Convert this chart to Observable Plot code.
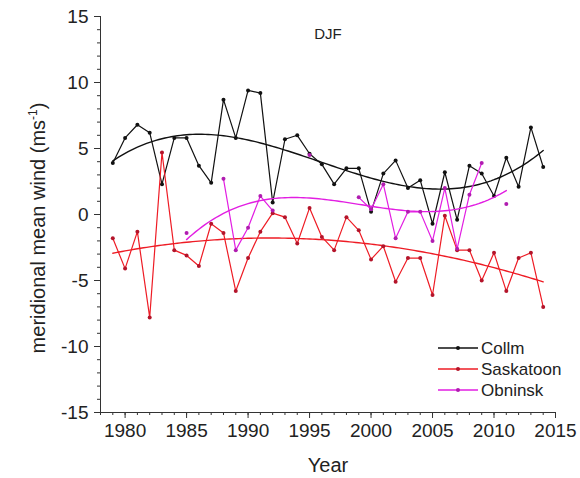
<!DOCTYPE html>
<html><head><meta charset="utf-8">
<script src="https://cdn.jsdelivr.net/npm/d3@7"></script>
<script src="https://cdn.jsdelivr.net/npm/@observablehq/plot@0.6"></script>
<style>
body{margin:0;background:#fff;}
svg{font-family:"Liberation Sans",Arial,sans-serif;}
</style>
</head><body><div id="chart"></div>
<script>
const years = [1979,1980,1981,1982,1983,1984,1985,1986,1987,1988,1989,1990,1991,1992,1993,1994,1995,1996,1997,1998,1999,2000,2001,2002,2003,2004,2005,2006,2007,2008,2009,2010,2011,2012,2013,2014];
const collm = [3.9,5.8,6.8,6.2,2.3,5.8,5.8,3.7,2.4,8.7,5.8,9.4,9.2,0.9,5.7,6.0,4.6,3.8,2.3,3.5,3.5,0.2,3.1,4.1,2.0,2.6,-0.7,3.2,-0.4,3.7,3.1,1.4,4.3,2.1,6.6,3.6];
const saskatoon = [-1.8,-4.1,-1.3,-7.8,4.7,-2.7,-3.1,-3.9,-0.7,-1.4,-5.8,-3.3,-1.3,0.1,-0.2,-2.2,0.5,-1.7,-2.7,-0.2,-1.2,-3.4,-2.4,-5.1,-3.3,-3.3,-6.1,-0.1,-2.7,-2.7,-5.0,-2.9,-5.8,-3.3,-2.9,-7.0];
const obninsk = [null,null,null,null,null,null,-1.4,null,null,2.7,-2.7,-1.0,1.4,0.3,null,null,4.5,null,null,null,1.3,0.4,2.3,-1.8,0.2,0.2,-2.0,2.0,-2.6,1.5,3.9,null,0.8,null,null,null];
const seriesNames = ["Collm","Saskatoon","Obninsk"];
const seriesColors = ["#111111","#ee1c25","#e21ee2"];
const dotColors = ["#111111","#b4142a","#b01cb0"];
const xTicks = [1980,1985,1990,1995,2000,2005,2010,2015];
const xMinor = [1978,1979,1980,1981,1982,1983,1984,1985,1986,1987,1988,1989,1990,1991,1992,1993,1994,1995,1996,1997,1998,1999,2000,2001,2002,2003,2004,2005,2006,2007,2008,2009,2010,2011,2012,2013,2014,2015];
const yTicks = [-15,-10,-5,0,5,10,15];
const yMinor = [-15,-14,-13,-12,-11,-10,-9,-8,-7,-6,-5,-4,-3,-2,-1,0,1,2,3,4,5,6,7,8,9,10,11,12,13,14,15];

// least-squares cubic fit of each series
function polyfit(xs, ys, deg) {
  const pts = xs.map((x, i) => [x, ys[i]]).filter(d => d[1] != null);
  const c = 1996.5, s = 10, n = deg + 1;
  const A = Array.from({length: n}, () => new Array(n).fill(0));
  const b = new Array(n).fill(0);
  for (const [x, y] of pts) {
    const t = (x - c) / s;
    for (let i = 0; i < n; i++) {
      b[i] += y * Math.pow(t, i);
      for (let j = 0; j < n; j++) A[i][j] += Math.pow(t, i + j);
    }
  }
  for (let i = 0; i < n; i++) {
    let p = i;
    for (let r = i + 1; r < n; r++) if (Math.abs(A[r][i]) > Math.abs(A[p][i])) p = r;
    [A[i], A[p]] = [A[p], A[i]]; [b[i], b[p]] = [b[p], b[i]];
    for (let r = i + 1; r < n; r++) {
      const f = A[r][i] / A[i][i];
      for (let k = i; k < n; k++) A[r][k] -= f * A[i][k];
      b[r] -= f * b[i];
    }
  }
  const coef = new Array(n).fill(0);
  for (let i = n - 1; i >= 0; i--) {
    let sum = b[i];
    for (let k = i + 1; k < n; k++) sum -= A[i][k] * coef[k];
    coef[i] = sum / A[i][i];
  }
  const f = x => coef.reduce((acc, ck, k) => acc + ck * Math.pow((x - c) / s, k), 0);
  const x0 = d3.min(pts, d => d[0]), x1 = d3.max(pts, d => d[0]);
  const out = [];
  for (let x = x0; x <= x1 + 1e-9; x += 0.25) out.push({x, y: f(x)});
  return out;
}

const allSeries = [collm, saskatoon, obninsk];
const rows = [];
allSeries.forEach((vals, si) => years.forEach((yr, i) => rows.push({series: seriesNames[si], year: yr, value: vals[i]})));
const fits = allSeries.map(vals => polyfit(years, vals, 3));

const marks = [
  Plot.axisX({ticks: xMinor, tickSize: 3, text: null, label: null, stroke: "#333"}),
  Plot.axisX({ticks: xTicks, tickSize: 6, tickPadding: 5, tickFormat: d => String(d), fontSize: 19, label: null, stroke: "#333", fill: "#222"}),
  Plot.axisY({ticks: yMinor, tickSize: 3, text: null, label: null, stroke: "#333"}),
  Plot.axisY({ticks: yTicks, tickSize: 6, tickPadding: 6, tickFormat: d => String(d), fontSize: 19, label: null, stroke: "#333", fill: "#222"}),
  Plot.ruleX([1978], {stroke: "#333"}),
  Plot.ruleY([-15], {stroke: "#333"}),
  Plot.text(["DJF"], {frameAnchor: "top", dx: 0, dy: 12, fontSize: 15, fill: "#222"})
];
seriesNames.forEach((name, si) => {
  const data = rows.filter(d => d.series === name);
  marks.push(Plot.line(fits[si], {x: "x", y: "y", stroke: seriesColors[si], strokeWidth: 1.4, curve: "linear"}));
  marks.push(Plot.line(data, {x: "year", y: "value", stroke: seriesColors[si], strokeWidth: 1.2}));
  marks.push(Plot.dot(data.filter(d => d.value != null), {x: "year", y: "value", r: 2, fill: dotColors[si], stroke: "none"}));
});

const chart = Plot.plot({
  width: 580, height: 478,
  marginLeft: 100, marginRight: 25, marginTop: 16, marginBottom: 66,
  x: {domain: [1978, 2015]},
  y: {domain: [-15, 15]},
  style: {fontFamily: "Liberation Sans, Arial, sans-serif", background: "#fff"},
  marks
});

const svg = d3.select(chart);
// axis titles
svg.append("text").attr("x", 328).attr("y", 472).attr("text-anchor", "middle")
  .attr("font-size", 20).attr("fill", "#222").text("Year");
const yt = svg.append("text").attr("transform", "translate(45,228) rotate(-90)")
  .attr("text-anchor", "middle").attr("font-size", 20).attr("fill", "#222");
yt.append("tspan").text("meridional mean wind (ms");
yt.append("tspan").attr("font-size", 12).attr("dy", -8).text("-1");
yt.append("tspan").attr("dy", 8).text(")");
// legend
seriesNames.forEach((name, i) => {
  const y = 348 + i * 21;
  svg.append("line").attr("x1", 438).attr("x2", 478).attr("y1", y).attr("y2", y)
    .attr("stroke", seriesColors[i]).attr("stroke-width", 1.3);
  svg.append("circle").attr("cx", 458).attr("cy", y).attr("r", 2).attr("fill", dotColors[i]);
  svg.append("text").attr("x", 481).attr("y", y).attr("dy", "0.35em").attr("text-anchor", "start")
    .attr("font-size", 17).attr("fill", "#222").text(name);
});
document.getElementById("chart").appendChild(chart);
</script>
</body></html>
